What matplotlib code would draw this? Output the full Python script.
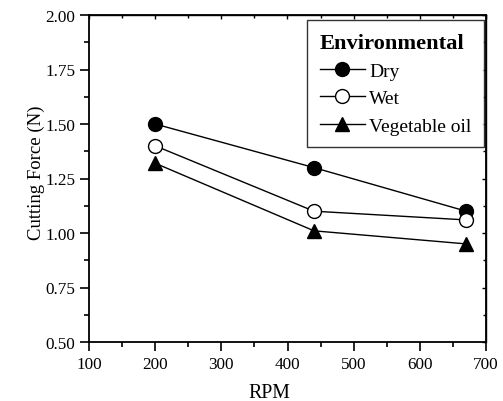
import matplotlib
matplotlib.use("Agg")
import matplotlib.pyplot as plt
from matplotlib.ticker import MultipleLocator

rpm = [200, 440, 670]
dry = [1.50, 1.30, 1.10]
wet = [1.40, 1.10, 1.06]
veg_oil = [1.32, 1.01, 0.95]

plt.rcParams.update({
    'font.family': ['Liberation Serif', 'DejaVu Serif'],
    'font.size': 12.3,
    'axes.linewidth': 1.3,
})

fig = plt.figure(figsize=(5.03, 4.02), dpi=100)
ax = fig.add_axes([89 / 503, 1 - 343 / 402, (486 - 89) / 503, (343 - 16) / 402])

ax.plot(rpm, dry, color='black', lw=1.0, marker='o', ms=10,
        mfc='black', mec='black', label='Dry')
ax.plot(rpm, wet, color='black', lw=1.0, marker='o', ms=10,
        mfc='white', mec='black', label='Wet')
ax.plot(rpm, veg_oil, color='black', lw=1.0, marker='^', ms=10,
        mfc='black', mec='black', label='Vegetable oil')

ax.set_xlim(100, 700)
ax.set_ylim(0.5, 2.0)
ax.xaxis.set_major_locator(MultipleLocator(100))
ax.xaxis.set_minor_locator(MultipleLocator(50))
ax.yaxis.set_major_locator(MultipleLocator(0.25))
ax.yaxis.set_minor_locator(MultipleLocator(0.125))
ax.yaxis.set_major_formatter(plt.FormatStrFormatter('%.2f'))

ax.tick_params(which='major', direction='out', length=6.5, width=1.2,
               labelsize=12.3, pad=3.5)
ax.tick_params(which='minor', direction='out', length=3.5, width=1.2)
ax.tick_params(which='both', top=False, right=False)

# inward ticks on top and right
secx = ax.secondary_xaxis('top')
secx.xaxis.set_major_locator(MultipleLocator(100))
secx.xaxis.set_minor_locator(MultipleLocator(50))
secx.tick_params(which='major', direction='in', length=3, width=1.0, labeltop=False)
secx.tick_params(which='minor', direction='in', length=2.5, width=1.0)
secx.spines['top'].set_linewidth(1.0)
secy = ax.secondary_yaxis('right')
secy.yaxis.set_major_locator(MultipleLocator(0.25))
secy.yaxis.set_minor_locator(MultipleLocator(0.125))
secy.tick_params(which='major', direction='in', length=3, width=1.0, labelright=False)
secy.tick_params(which='minor', direction='in', length=2.5, width=1.0)
secy.spines['right'].set_linewidth(1.0)

ax.set_xlabel('RPM', fontsize=14.3)
ax.set_ylabel('Cutting Force (N)', fontsize=13.5)
ax.xaxis.set_label_coords((269 - 89) / 397, -0.125)
ax.yaxis.set_label_coords(-0.112, (343 - 173) / 327)

leg = ax.legend(title='Environmental', loc='upper right', fontsize=14,
                title_fontproperties={'weight': 'bold', 'size': 16.2},
                frameon=True, fancybox=False, edgecolor='black',
                handlelength=2.35, handletextpad=0.2, labelspacing=0.5,
                borderpad=0.65, borderaxespad=0, alignment='left',
                bbox_to_anchor=(484 / 397 - 89 / 397, 1 - 5 / 327))
leg.get_frame().set_linewidth(1.0)

fig.savefig('out.png', dpi=100, facecolor='white')
